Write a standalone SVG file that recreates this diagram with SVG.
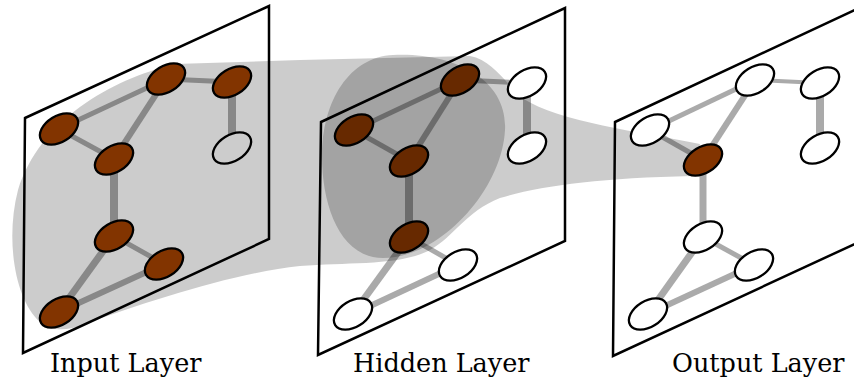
<svg xmlns="http://www.w3.org/2000/svg" width="854" height="383" viewBox="0 0 854 383">
  <style>
    .edge { stroke: #aaaaaa; fill: none; stroke-linecap: butt; }
    .node { stroke: #000; stroke-width: 2.3; }
    .brown { fill: #823400; }
    .brown-dim { fill: #672900; }
    .white { fill: #ffffff; }
    .pale { fill: #cccccc; }
    .frame { fill: none; stroke: #000; stroke-width: 2.5; stroke-linejoin: miter; }
    .shade { fill: #000; fill-opacity: 0.2; }
    .label { font-family: "DejaVu Serif", "Liberation Serif", serif; font-size: 25.5px; fill: #000; }
  </style>

  <!-- connectors: the same graph on each of the three layers -->
  <g id="connectors" class="edge">
    <!-- input layer -->
    <line x1="59" y1="129" x2="166" y2="79" stroke-width="5"/>
    <line x1="59" y1="129" x2="114" y2="159" stroke-width="5"/>
    <line x1="166" y1="79" x2="114" y2="159" stroke-width="6"/>
    <line x1="166" y1="79" x2="232" y2="82" stroke-width="5"/>
    <line x1="232" y1="82" x2="232" y2="148" stroke-width="8"/>
    <line x1="114" y1="159" x2="114" y2="236" stroke-width="8"/>
    <line x1="114" y1="236" x2="164" y2="264" stroke-width="5"/>
    <line x1="114" y1="236" x2="59" y2="312" stroke-width="7"/>
    <line x1="59" y1="312" x2="164" y2="264" stroke-width="6"/>
    <!-- hidden layer -->
    <line x1="354" y1="130" x2="460" y2="80" stroke-width="5"/>
    <line x1="354" y1="130" x2="409" y2="161" stroke-width="5"/>
    <line x1="460" y1="80" x2="409" y2="161" stroke-width="6"/>
    <line x1="460" y1="80" x2="527" y2="83" stroke-width="5"/>
    <line x1="527" y1="83" x2="527" y2="148" stroke-width="8"/>
    <line x1="409" y1="161" x2="409" y2="237" stroke-width="8"/>
    <line x1="409" y1="237" x2="458" y2="265" stroke-width="5"/>
    <line x1="409" y1="237" x2="353" y2="314" stroke-width="7"/>
    <line x1="353" y1="314" x2="458" y2="265" stroke-width="6"/>
    <!-- output layer -->
    <line x1="650" y1="130" x2="755" y2="80" stroke-width="5"/>
    <line x1="650" y1="130" x2="703" y2="160" stroke-width="5"/>
    <line x1="755" y1="80" x2="703" y2="160" stroke-width="6"/>
    <line x1="755" y1="80" x2="820" y2="83" stroke-width="4"/>
    <line x1="820" y1="83" x2="820" y2="148" stroke-width="8"/>
    <line x1="703" y1="160" x2="703" y2="237" stroke-width="7"/>
    <line x1="703" y1="237" x2="754" y2="265" stroke-width="5"/>
    <line x1="703" y1="237" x2="648" y2="314" stroke-width="7"/>
    <line x1="648" y1="314" x2="754" y2="265" stroke-width="6"/>
  </g>

  <!-- receptive field: input region narrowing through the hidden layer to one output unit -->
  <path id="field" class="shade" d="M700,144 C640,132 560,122 522,98 C505,82 492,60 470,56 L300,60 L175,64 C110,80 40,120 18,190 C5,240 15,300 40,322 C52,332 68,330 80,326 C150,300 240,272 300,266 C350,262 400,266 430,250 C455,236 465,212 500,198 C540,186 600,178 692,176 Z"/>
  <path id="hidden-field" class="shade" d="M393,55 C455,52 508,80 505,130 C502,190 440,258 383,258 C340,258 322,205 322,157 C322,100 350,57 393,55 Z"/>

  <!-- layer planes -->
  <g id="input-plane"><path class="frame" d="M25,118 L269,6 L269,239 L23,353 Z"/></g>
  <g id="hidden-plane"><path class="frame" d="M321,122 L565,8 L565,241 L318,355 Z"/></g>
  <g id="output-plane"><path class="frame" d="M615,122 L859,8 L859,242 L613,356 Z"/></g>

  <!-- input layer units -->
  <g id="in-a"><ellipse class="node brown" cx="59" cy="129" rx="21" ry="13" transform="rotate(-32 59 129)"/></g>
  <g id="in-b"><ellipse class="node brown" cx="166" cy="79" rx="21" ry="13" transform="rotate(-32 166 79)"/></g>
  <g id="in-c"><ellipse class="node brown" cx="232" cy="82" rx="21" ry="13" transform="rotate(-32 232 82)"/></g>
  <g id="in-d"><ellipse class="node pale" cx="232" cy="148" rx="21" ry="13" transform="rotate(-32 232 148)"/></g>
  <g id="in-e"><ellipse class="node brown" cx="114" cy="159" rx="21" ry="13" transform="rotate(-32 114 159)"/></g>
  <g id="in-f"><ellipse class="node brown" cx="114" cy="236" rx="21" ry="13" transform="rotate(-32 114 236)"/></g>
  <g id="in-g"><ellipse class="node brown" cx="164" cy="264" rx="21" ry="13" transform="rotate(-32 164 264)"/></g>
  <g id="in-h"><ellipse class="node brown" cx="59" cy="312" rx="21" ry="13" transform="rotate(-32 59 312)"/></g>

  <!-- hidden layer units -->
  <g id="hid-a"><ellipse class="node brown-dim" cx="354" cy="130" rx="21" ry="13" transform="rotate(-32 354 130)"/></g>
  <g id="hid-b"><ellipse class="node brown-dim" cx="460" cy="80" rx="21" ry="13" transform="rotate(-32 460 80)"/></g>
  <g id="hid-c"><ellipse class="node white" cx="527" cy="83" rx="21" ry="13" transform="rotate(-32 527 83)"/></g>
  <g id="hid-d"><ellipse class="node white" cx="527" cy="148" rx="21" ry="13" transform="rotate(-32 527 148)"/></g>
  <g id="hid-e"><ellipse class="node brown-dim" cx="409" cy="161" rx="21" ry="13" transform="rotate(-32 409 161)"/></g>
  <g id="hid-f"><ellipse class="node brown-dim" cx="409" cy="237" rx="21" ry="13" transform="rotate(-32 409 237)"/></g>
  <g id="hid-g"><ellipse class="node white" cx="458" cy="265" rx="21" ry="13" transform="rotate(-32 458 265)"/></g>
  <g id="hid-h"><ellipse class="node white" cx="353" cy="314" rx="21" ry="13" transform="rotate(-32 353 314)"/></g>

  <!-- output layer units -->
  <g id="out-a"><ellipse class="node white" cx="650" cy="130" rx="21" ry="13" transform="rotate(-32 650 130)"/></g>
  <g id="out-b"><ellipse class="node white" cx="755" cy="80" rx="21" ry="13" transform="rotate(-32 755 80)"/></g>
  <g id="out-c"><ellipse class="node white" cx="820" cy="83" rx="21" ry="13" transform="rotate(-32 820 83)"/></g>
  <g id="out-d"><ellipse class="node white" cx="820" cy="148" rx="21" ry="13" transform="rotate(-32 820 148)"/></g>
  <g id="out-e"><ellipse class="node brown" cx="703" cy="160" rx="21" ry="13" transform="rotate(-32 703 160)"/></g>
  <g id="out-f"><ellipse class="node white" cx="703" cy="237" rx="21" ry="13" transform="rotate(-32 703 237)"/></g>
  <g id="out-g"><ellipse class="node white" cx="754" cy="265" rx="21" ry="13" transform="rotate(-32 754 265)"/></g>
  <g id="out-h"><ellipse class="node white" cx="648" cy="314" rx="21" ry="13" transform="rotate(-32 648 314)"/></g>

  <!-- captions -->
  <text class="label" x="50" y="372">Input Layer</text>
  <text class="label" x="353" y="372">Hidden Layer</text>
  <text class="label" x="672" y="372">Output Layer</text>
</svg>
